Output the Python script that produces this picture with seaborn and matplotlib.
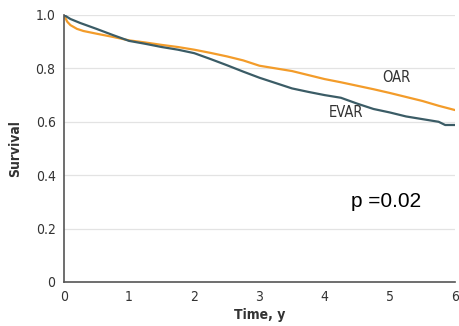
import matplotlib
matplotlib.use("Agg")
import matplotlib.pyplot as plt
import seaborn as sns
import pandas as pd

# ---------------------------------------------------------------------------
# DATA
# ---------------------------------------------------------------------------
oar_time = [0, 0.05, 0.1, 0.2, 0.3, 0.5, 0.75, 1.0, 1.25, 1.5, 1.75, 2.0, 2.25,
            2.5, 2.75, 3.0, 3.25, 3.5, 3.75, 4.0, 4.25, 4.5, 4.75, 5.0, 5.25,
            5.5, 5.75, 6.0]
oar_surv = [1.0, 0.975, 0.962, 0.948, 0.940, 0.930, 0.918, 0.905, 0.897, 0.888,
            0.880, 0.870, 0.858, 0.845, 0.830, 0.810, 0.800, 0.790, 0.775,
            0.760, 0.748, 0.735, 0.722, 0.708, 0.693, 0.678, 0.660, 0.644]

evar_time = [0, 0.1, 0.25, 0.5, 0.75, 1.0, 1.25, 1.5, 1.75, 2.0, 2.25, 2.5,
             2.75, 3.0, 3.25, 3.5, 3.75, 4.0, 4.25, 4.5, 4.75, 5.0, 5.25, 5.5,
             5.75, 5.85, 6.0]
evar_surv = [1.0, 0.985, 0.970, 0.948, 0.925, 0.903, 0.892, 0.880, 0.870,
             0.857, 0.835, 0.812, 0.788, 0.765, 0.745, 0.725, 0.712, 0.700,
             0.690, 0.668, 0.648, 0.635, 0.620, 0.610, 0.600, 0.588, 0.588]

groups = ["OAR", "EVAR"]
x_ticks = [0, 1, 2, 3, 4, 5, 6]
y_ticks = [0, 0.2, 0.4, 0.6, 0.8, 1.0]
y_tick_labels = ["0", "0.2", "0.4", "0.6", "0.8", "1.0"]

COLORS = {"OAR": "#F39C2A", "EVAR": "#3B5C66"}
TEXT = "#333333"

df = pd.concat([
    pd.DataFrame({"time": oar_time, "surv": oar_surv, "group": "OAR"}),
    pd.DataFrame({"time": evar_time, "surv": evar_surv, "group": "EVAR"}),
])

# ---------------------------------------------------------------------------
# PLOT
# ---------------------------------------------------------------------------
sns.set_style("white")
plt.rcParams["font.family"] = ["DejaVu Sans"]
plt.rcParams["font.stretch"] = "condensed"

fig = plt.figure(figsize=(4.6, 3.26), dpi=100)
ax = fig.add_axes([0.139, 0.135, 0.85, 0.819])

for y in y_ticks[1:]:
    ax.axhline(y, color="#E3E3E3", lw=0.9, zorder=0)

sns.lineplot(data=df, x="time", y="surv", hue="group", hue_order=groups,
             palette=COLORS, lw=1.6, legend=False,
             ax=ax, sort=False, estimator=None)

ax.set_xlim(0, 6)
ax.set_ylim(0, 1.0)
ax.set_xticks(x_ticks)
ax.set_yticks(y_ticks)
ax.set_yticklabels(y_tick_labels)
ax.tick_params(axis="both", direction="out", length=4, width=1, color="#555555",
               labelsize=10, labelcolor=TEXT, pad=2)

for s in ["top", "right"]:
    ax.spines[s].set_visible(False)
for s in ["left", "bottom"]:
    ax.spines[s].set_color("#555555")
    ax.spines[s].set_linewidth(1.2)

ax.set_xlabel("Time, y", fontsize=10, fontweight="bold", color=TEXT, labelpad=3)
ax.set_ylabel("Survival", fontsize=10, fontweight="bold", color=TEXT, labelpad=10)

ax.text(5.1, 0.765, "OAR", fontsize=10.5, color=TEXT, ha="center", va="center")
ax.text(4.33, 0.635, "EVAR", fontsize=10.5, color=TEXT, ha="center", va="center")
ax.text(4.95, 0.30, "p =0.02", fontsize=15, color="black", ha="center", va="center",
        family=["Liberation Sans", "DejaVu Sans"], stretch="normal")

fig.savefig("out.png", dpi=100)
plt.close(fig)
